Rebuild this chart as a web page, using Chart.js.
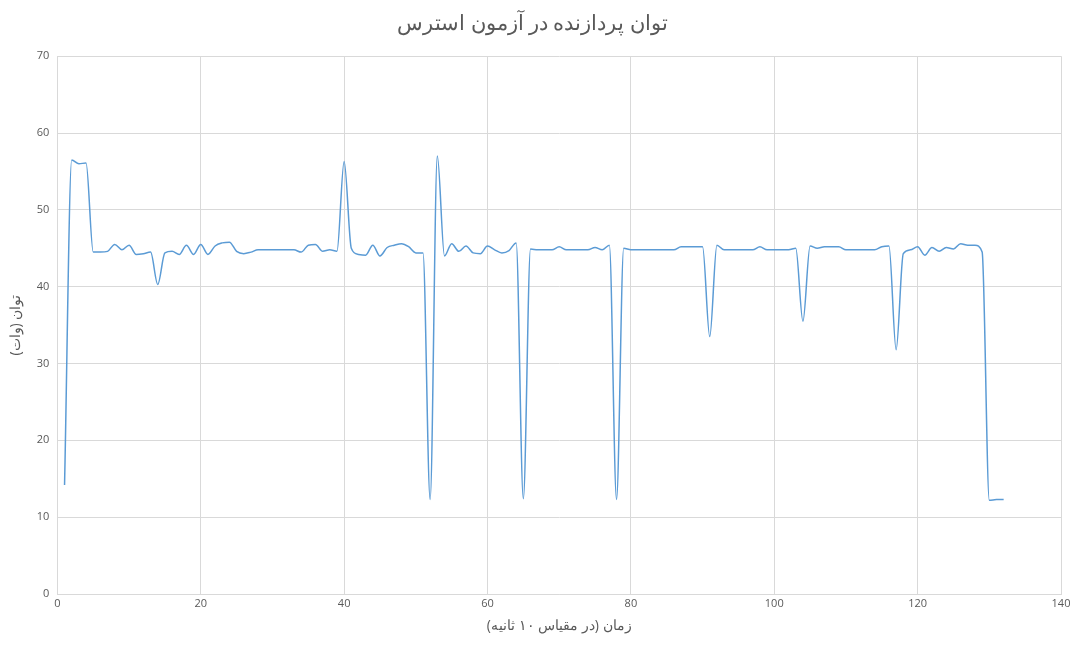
<!DOCTYPE html>
<html><head><meta charset="utf-8">
<script src="https://cdn.jsdelivr.net/npm/chart.js@4"></script>
<style>html,body{margin:0;background:#fff}#wrap{width:1080px;height:649px}</style>
</head><body><div id="wrap"><canvas id="c"></canvas></div>
<script>
const times = [];
for (let i = 1; i <= 132; i++) times.push(i);
const power = [
  14.2,56.5,56,56.1,44.5,44.5,44.6,45.5,44.8,45.4,
  44.2,44.3,44.5,40.3,44.4,44.6,44.2,45.4,44.2,45.5,
  44.2,45.3,45.7,45.8,44.6,44.3,44.5,44.8,44.8,44.8,
  44.8,44.8,44.8,44.5,45.4,45.5,44.6,44.8,44.6,56.3,
  45,44.2,44.1,45.4,44,45.1,45.4,45.6,45.2,44.4,
  44.4,12.3,57,44,45.6,44.6,45.3,44.4,44.3,45.3,
  44.8,44.4,44.7,45.7,12.4,44.9,44.8,44.8,44.8,45.2,
  44.8,44.8,44.8,44.8,45.1,44.8,45.4,12.3,45,44.8,
  44.8,44.8,44.8,44.8,44.8,44.8,45.2,45.2,45.2,45.2,
  33.5,45.4,44.8,44.8,44.8,44.8,44.8,45.2,44.8,44.8,
  44.8,44.8,45,35.5,45.3,45,45.2,45.2,45.2,44.8,
  44.8,44.8,44.8,44.8,45.2,45.3,31.8,44.3,44.8,45.2,
  44.1,45.1,44.6,45.1,44.9,45.6,45.4,45.4,44.5,12.2,
  12.3,12.3
];
const font = "'Open Sans', sans-serif";
new Chart(document.getElementById('c'), {
  type: 'line',
  data: { datasets: [{
    data: times.map((t, i) => ({ x: t, y: power[i] })),
    borderColor: '#5b9bd5', borderWidth: 1.5, pointRadius: 0,
    cubicInterpolationMode: 'monotone'
  }]},
  options: {
    responsive: true, maintainAspectRatio: false, animation: false,
    layout: { padding: { left: 4, right: 19, top: 7, bottom: 11 } },
    plugins: {
      legend: { display: false },
      title: { display: true, text: 'توان پردازنده در آزمون استرس', color: '#595959',
        font: { family: font, size: 21, weight: 'normal' }, padding: { top: 4, bottom: 20 } }
    },
    scales: {
      x: { type: 'linear', min: 0, max: 140,
        ticks: { stepSize: 20, color: '#595959', font: { family: font, size: 11 } },
        grid: { color: '#d9d9d9', drawTicks: false }, border: { color: '#d9d9d9' },
        title: { display: true, text: 'زمان (در مقیاس ۱۰ ثانیه)', color: '#595959', font: { family: font, size: 14 } } },
      y: { min: 0, max: 70,
        ticks: { stepSize: 10, color: '#595959', font: { family: font, size: 11 }, padding: 8 },
        grid: { color: '#d9d9d9', drawTicks: false }, border: { color: '#d9d9d9' },
        title: { display: true, text: 'توان (وات)', color: '#595959', font: { family: font, size: 14 } } }
    }
  }
});
</script></body></html>
